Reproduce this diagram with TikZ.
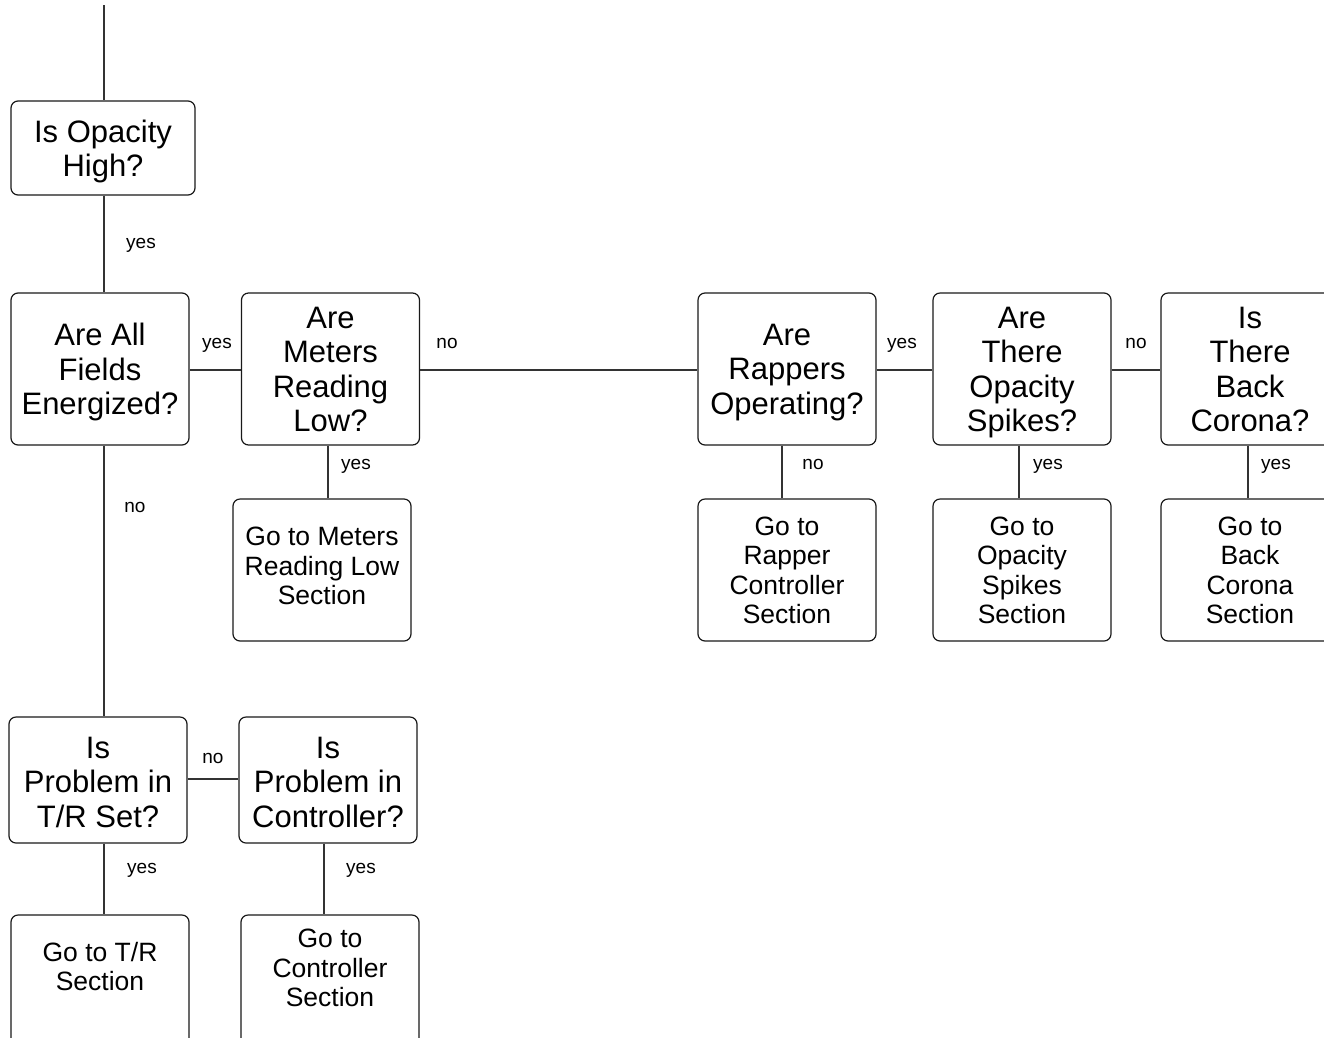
\documentclass[tikz,border=0pt]{standalone}
\usepackage{fontspec}
\setmainfont{Liberation Sans}
\newcommand\bigtop[1][8pt]{\rule{0pt}{\dimexpr 24.15pt+#1\relax}}
\newcommand\smalltop[1][7pt]{\rule{0pt}{\dimexpr 20.65pt+#1\relax}}
\begin{document}
\begin{tikzpicture}[x=1pt,y=-1pt,
  box/.style={draw=black!90, line width=1.2pt, rounded corners=7pt, minimum width=178pt, inner sep=0pt, align=center},
  big/.style={font=\fontsize{31}{34.5}\selectfont},
  small/.style={font=\fontsize{26.5}{29.5}\selectfont, align=center},
  lbl/.style={font=\fontsize{19}{22}\selectfont, inner sep=0pt, yshift=-2.5pt},
  conn/.style={draw=black!80, line width=1.3pt}]
\clip (0,0) rectangle (1324,1037);
\useasboundingbox (0,0) rectangle (1324,1037);

% question boxes
\node[box,big,minimum width=184pt,minimum height=94pt] (op) at (103,148) {\bigtop[9pt]Is Opacity\\High?\strut};
\node[box,big,minimum height=152pt] (f) at (100,369) {\bigtop[8.5pt]Are All\\Fields\\Energized?\strut};
\node[box,big,minimum height=152pt] (m) at (330.5,369) {\bigtop Are\\Meters\\Reading\\Low?\strut};
\node[box,big,minimum height=152pt] (r) at (787,369) {\bigtop Are\\Rappers\\Operating?\strut};
\node[box,big,minimum height=152pt] (s) at (1022,369) {\bigtop Are\\There\\Opacity\\Spikes?\strut};
\node[box,big,minimum height=152pt] (c) at (1250,369) {\bigtop Is\\There\\Back\\Corona?\strut};
\node[box,big,minimum height=126pt] (tr) at (98,780) {\bigtop[12pt]Is\\Problem in\\T/R Set?\strut};
\node[box,big,minimum height=126pt] (ct) at (328,780) {\bigtop[12pt]Is\\Problem in\\Controller?\strut};

% action boxes
\node[box,small,minimum height=142pt] (ml) at (322,570) {\smalltop[-1pt]Go to Meters\\Reading Low\\Section\strut};
\node[box,small,minimum height=142pt] (rc) at (787,570) {\smalltop Go to\\Rapper\\Controller\\Section\strut};
\node[box,small,minimum height=142pt] (ss) at (1022,570) {\smalltop Go to\\Opacity\\Spikes\\Section\strut};
\node[box,small,minimum height=142pt] (cs) at (1250,570) {\smalltop Go to\\Back\\Corona\\Section\strut};
\node[box,minimum height=142pt] (trs) at (100,986) {};
\node[small] (trsT) at (100,970) {\smalltop[0pt]Go to T/R\\Section\strut};
\node[box,minimum height=142pt] (cts) at (330,986) {};
\node[small] (ctsT) at (330,971.5) {\smalltop[0pt]Go to\\Controller\\Section\strut};

% connectors
\coordinate (start) at (104,5);
\draw[conn] (start) -- ([xshift=1pt]op.north);
\draw[conn] ([xshift=1pt]op.south) -- ([xshift=4pt]f.north);
\draw[conn] ([yshift=-1pt]f.east) -- ([yshift=-1pt]m.west);
\draw[conn] ([yshift=-1pt]m.east) -- ([yshift=-1pt]r.west);
\draw[conn] ([yshift=-1pt]r.east) -- ([yshift=-1pt]s.west);
\draw[conn] ([yshift=-1pt]s.east) -- ([yshift=-1pt]c.west);
\draw[conn] ([xshift=-2.5pt]m.south) -- ([xshift=6pt]ml.north);
\draw[conn] ([xshift=-5pt]r.south) -- ([xshift=-5pt]rc.north);
\draw[conn] ([xshift=-3pt]s.south) -- ([xshift=-3pt]ss.north);
\draw[conn] ([xshift=-2pt]c.south) -- ([xshift=-2pt]cs.north);
\draw[conn] ([xshift=4pt]f.south) -- ([xshift=6pt]tr.north);
\draw[conn] ([yshift=1pt]tr.east) -- ([yshift=1pt]ct.west);
\draw[conn] ([xshift=6pt]tr.south) -- ([xshift=4pt]trs.north);
\draw[conn] ([xshift=-4pt]ct.south) -- ([xshift=-6pt]cts.north);

% labels
\node[lbl] (l1) at (141,242) {yes\strut};
\node[lbl] (l2) at (217,342) {yes\strut};
\node[lbl] (l3) at (447,342) {no\strut};
\node[lbl] (l4) at (902,342) {yes\strut};
\node[lbl] (l5) at (1136,342) {no\strut};
\node[lbl] (l6) at (356,463) {yes\strut};
\node[lbl] (l7) at (813,463) {no\strut};
\node[lbl] (l8) at (1048,463) {yes\strut};
\node[lbl] (l9) at (1276,463) {yes\strut};
\node[lbl] (l10) at (135,506) {no\strut};
\node[lbl] (l11) at (213,757) {no\strut};
\node[lbl] (l12) at (142,867) {yes\strut};
\node[lbl] (l13) at (361,867) {yes\strut};
\end{tikzpicture}
\end{document}
